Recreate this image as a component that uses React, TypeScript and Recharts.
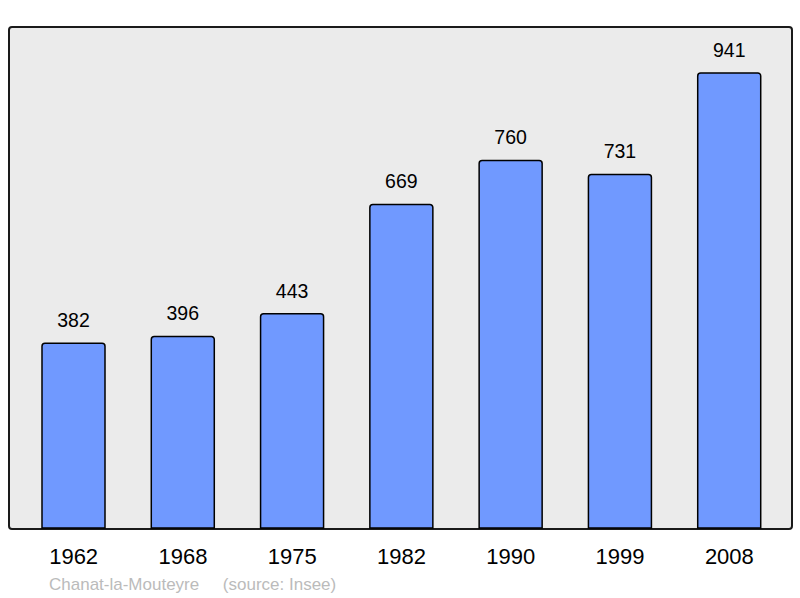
import { Bar, BarChart, LabelList, XAxis, YAxis } from 'recharts'

const years = ['1962', '1968', '1975', '1982', '1990', '1999', '2008']
const population = [382, 396, 443, 669, 760, 731, 941]

const commune = 'Chanat-la-Mouteyre'
const source = '(source: Insee)'

const data = years.map((y, i) => ({ year: y, pop: population[i] }))

const font = '"Liberation Sans", Arial, sans-serif'

export default function App() {
  return (
    <div style={{ position: 'absolute', left: 0, top: 0, width: 800, height: 598, background: '#fff', fontFamily: font }}>
      <div
        style={{
          position: 'absolute',
          left: 8,
          top: 26,
          width: 781,
          height: 500,
          border: '2px solid #1a1a1a',
          borderRadius: 4,
          background: '#ebebeb',
        }}
      />
      <div style={{ position: 'absolute', left: 0, top: 0 }}>
        <BarChart
          width={800}
          height={598}
          data={data}
          margin={{ top: 27, right: 8, left: 9, bottom: 40 }}
          barSize={63}
        >
          <XAxis
            dataKey="year"
            height={30}
            padding={{ left: 10, right: 8 }}
            axisLine={false}
            tickLine={false}
            interval={0}
            tick={{ fill: '#000', fontSize: 22, fontFamily: font }}
            tickMargin={14}
          />
          <YAxis hide domain={[0, 1036]} />
          <Bar
            dataKey="pop"
            fill="#7099ff"
            stroke="#000"
            strokeWidth={1.5}
            radius={[3, 3, 0, 0]}
            isAnimationActive={false}
          >
            <LabelList
              dataKey="pop"
              position="top"
              offset={16}
              fill="#000"
              fontSize={19.5}
              fontFamily={font}
            />
          </Bar>
        </BarChart>
      </div>
      <div style={{ position: 'absolute', left: 49, top: 575, fontSize: 17, color: '#bbb', whiteSpace: 'pre' }}>
        {commune + '     ' + source}
      </div>
    </div>
  )
}
